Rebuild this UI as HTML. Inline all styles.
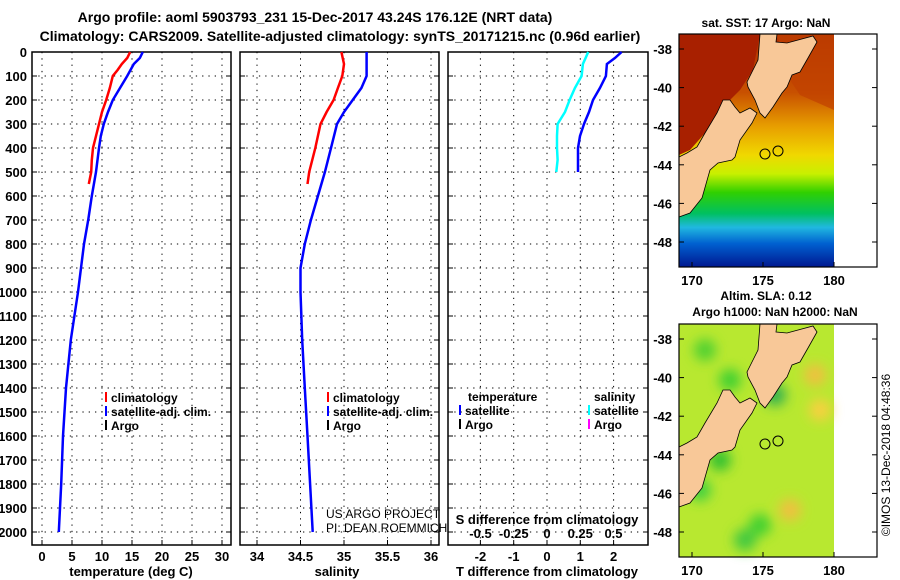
<!DOCTYPE html>
<html><head><meta charset="utf-8"><style>
body{margin:0;background:#fff}
svg{display:block;font-family:"Liberation Sans",sans-serif}
.b{font-weight:bold}
</style></head><body>
<svg id="c" width="900" height="580">
<text x="315" y="22" text-anchor="middle" font-size="14" class="b">Argo profile: aoml 5903793_231 15-Dec-2017 43.24S 176.12E (NRT data)</text>
<text x="340" y="41" text-anchor="middle" font-size="14" class="b">Climatology: CARS2009. Satellite-adjusted climatology: synTS_20171215.nc (0.96d earlier)</text>
<g id="panels"></g>
<g id="maps"></g>
<text transform="translate(890,455) rotate(-90)" text-anchor="middle" font-size="12">©IMOS 13-Dec-2018 04:48:36</text>
</svg>
<script>
// depth axis
const depthTicks=[0,100,200,300,400,500,600,700,800,900,1000,1100,1200,1300,1400,1500,1600,1700,1800,1900,2000];
// temperature panel
const tTicks=[0,5,10,15,20,25,30];
const tClimDepth=[0,25,50,75,100,150,200,250,300,350,400,450,500,550];
const tClim=[14.7,14.2,13.3,12.6,11.8,11.3,10.7,10.0,9.5,9.0,8.5,8.3,8.2,7.8];
const tSatDepth=[0,25,50,100,150,200,250,300,350,400,500,600,700,800,1000,1200,1400,1600,1800,2000];
const tSat=[16.8,16.3,15.3,14.2,13.0,11.8,11.0,10.3,9.8,9.5,9.0,8.3,7.7,7.0,6.0,4.8,4.0,3.5,3.2,2.8];
// salinity panel
const sTicks=[34,34.5,35,35.5,36];
const sClimDepth=[0,50,100,150,200,250,300,400,500,550];
const sClim=[34.97,35.0,34.98,34.93,34.88,34.8,34.73,34.67,34.6,34.58];
const sSatDepth=[0,100,150,200,250,300,400,500,600,700,800,900,1000,1200,1400,1600,1800,2000];
const sSat=[35.26,35.26,35.2,35.1,35.0,34.92,34.85,34.78,34.7,34.62,34.55,34.5,34.5,34.52,34.55,34.58,34.61,34.64];
// difference panel
const dTTicks=[-2,-1,0,1,2];
const dSTickLabels=["-0.5","-0.25","0","0.25","0.5"];
const dSTicks=[-0.5,-0.25,0,0.25,0.5];
const dDepth=[0,25,50,100,150,200,250,300,350,400,450,500];
const dT=[2.24,2.04,1.8,1.77,1.59,1.38,1.26,1.11,0.99,0.93,0.93,0.93];
const dS=[0.31,0.29,0.27,0.26,0.21,0.17,0.135,0.08,0.075,0.075,0.08,0.07];

const NS="http://www.w3.org/2000/svg";
function mk(tag,attrs,parent,txt){const e=document.createElementNS(NS,tag);for(const k in attrs)e.setAttribute(k,attrs[k]);if(txt!==undefined)e.textContent=txt;parent.appendChild(e);return e;}
const P=document.getElementById('panels');
const Y0=52,YTOP=52,YBOT=545;
const yD=d=>Y0+d*0.24;
function panel(x0,x1,name){
  const g=mk('g',{},P);
  
  
  mk('rect',{x:x0,y:YTOP,width:x1-x0,height:YBOT-YTOP,fill:'none',stroke:'#000','stroke-width':1.5},g);
  depthTicks.forEach(d=>{
    const l=mk('line',{x1:x0,x2:x1,y1:yD(d),y2:yD(d),stroke:'#000','stroke-dasharray':'1.3 5','stroke-width':1},g);
    
    
    mk('line',{x1:x0,x2:x0+5,y1:yD(d),y2:yD(d),stroke:'#000'},g);
    mk('line',{x1:x1-5,x2:x1,y1:yD(d),y2:yD(d),stroke:'#000'},g);
  });
  return g;
}
function vgrid(g,ticks,fx,labels,ly){
  ticks.forEach((t,i)=>{
    const x=fx(t);
    const l=mk('line',{x1:x,x2:x,y1:YTOP,y2:YBOT,stroke:'#000','stroke-dasharray':'1.3 5'},g);
    
    
    mk('line',{x1:x,x2:x,y1:YBOT-5,y2:YBOT,stroke:'#000'},g);
    if(labels){const tx=mk('text',{x:x,y:ly,'text-anchor':'middle','font-size':13,'font-weight':'bold'},g,labels[i]);
      
      }
  });
}
function line(g,depths,vals,fx,color,name){
  const pts=depths.map((d,i)=>fx(vals[i]).toFixed(1)+','+yD(d).toFixed(1)).join(' ');
  const pl=mk('polyline',{points:pts,fill:'none',stroke:color,'stroke-width':2.5},g);
  
  
}
function legend(g,x,y,items){
  items.forEach((it,i)=>{
    mk('rect',{x:x,y:y+i*14-10,width:2,height:10,fill:it[0]},g);
    const t=mk('text',{x:x+6,y:y+i*14,'font-size':12,'font-weight':'bold'},g,it[1]);
    
    
  });
}
// depth labels
depthTicks.forEach(d=>{const t=mk('text',{x:27,y:yD(d)+5,'text-anchor':'end','font-size':13,'font-weight':'bold'},P,String(d));
  
  });
// panel 1
const fT=t=>42+t*6;
let g1=panel(32,231,'temperature-panel');
vgrid(g1,tTicks,fT,tTicks.map(String),561);
line(g1,tSatDepth,tSat,fT,'#0000ff','temperature-satellite-line');
line(g1,tClimDepth,tClim,fT,'#ff0000','temperature-climatology-line');
legend(g1,105,402,[['#ff0000','climatology'],['#0000ff','satellite-adj. clim.'],['#000','Argo']]);
let t1=mk('text',{x:131,y:576,'text-anchor':'middle','font-size':13,'font-weight':'bold'},P,'temperature (deg C)');

// panel 2
const fS=s=>257+(s-34)*87;
let g2=panel(240,439,'salinity-panel');
vgrid(g2,sTicks,fS,sTicks.map(String),561);
line(g2,sSatDepth,sSat,fS,'#0000ff','salinity-satellite-line');
line(g2,sClimDepth,sClim,fS,'#ff0000','salinity-climatology-line');
legend(g2,327,402,[['#ff0000','climatology'],['#0000ff','satellite-adj. clim.'],['#000','Argo']]);
mk('text',{x:326,y:518,'font-size':12},g2,'US ARGO PROJECT');
mk('text',{x:326,y:532,'font-size':12},g2,'PI: DEAN ROEMMICH');
let t2=mk('text',{x:337,y:576,'text-anchor':'middle','font-size':13,'font-weight':'bold'},P,'salinity');

// panel 3
const fD=t=>547+t*33.3;
const fDS=s=>547+s*133;
let g3=panel(448,648,'difference-panel');
vgrid(g3,dTTicks,fD,dTTicks.map(String),561);
line(g3,dDepth,dT,fD,'#0000ff','temperature-difference-line');
line(g3,dDepth,dS,fDS,'#00ffff','salinity-difference-line');
mk('text',{x:468,y:401,'font-size':12,'font-weight':'bold'},g3,'temperature');
mk('text',{x:594,y:401,'font-size':12,'font-weight':'bold'},g3,'salinity');
legend(g3,459,415,[['#0000ff','satellite'],['#000','Argo']]);
legend(g3,588,415,[['#00ffff','satellite'],['#ff00ff','Argo']]);
mk('text',{x:547,y:524,'text-anchor':'middle','font-size':13,'font-weight':'bold'},g3,'S difference from climatology');
dSTicks.forEach((s,i)=>mk('text',{x:fDS(s),y:538,'text-anchor':'middle','font-size':13,'font-weight':'bold'},g3,dSTickLabels[i]));
let t3=mk('text',{x:547,y:576,'text-anchor':'middle','font-size':13,'font-weight':'bold'},P,'T difference from climatology');


// maps
const M=document.getElementById('maps');
const lonTicks=[170,175,180];const latTicks=[-38,-40,-42,-44,-46,-48];
const NI="760,34 777,34 776,42 787,43 813,36 817,42 808,58 800,72 792,75 787,87 782,93 773,107 765,118 760,113 755,100 748,87 747,82 753,70 758,60";
const SI="679,217 690,213 702,198 710,170 718,163 732,160 735,157 740,140 752,123 757,113 750,108 740,113 735,107 730,100 723,100 717,113 705,133 697,147 687,153 679,157";
const defs=mk('defs',{},M);
const gr=mk('linearGradient',{id:'sst',x1:0,y1:0,x2:0,y2:1},defs);
[[0,'#b03000'],[0.25,'#c85000'],[0.4,'#e8a000'],[0.52,'#f0d800'],[0.6,'#c8f000'],[0.68,'#30d000'],[0.77,'#00c060'],[0.83,'#20b8e0'],[0.9,'#0060d0'],[1,'#001890']].forEach(s=>mk('stop',{offset:s[0],'stop-color':s[1]},gr));
const fl=mk('filter',{id:'bl'},defs);mk('feGaussianBlur',{stdDeviation:6},fl);
function map(oy,name,title1,title2,kind){
  const g=mk('g',{transform:'translate(0,'+oy+')'},M);
  
  
  if(kind==='sst'){
    mk('rect',{x:679,y:34,width:155,height:233,fill:'url(#sst)'},g);
    mk('polygon',{points:'679,34 760,34 753,70 740,90 730,100 717,113 705,133 690,150 679,155',fill:'#a82000'},g);
    mk('polygon',{points:'777,34 834,34 834,110 800,95 790,80',fill:'#c04000',opacity:0.7},g);
  }else{
    mk('rect',{x:679,y:34,width:155,height:233,fill:'#b8e830'},g);
    const cl=mk('g',{filter:'url(#bl)'},g);
    [[705,60,'#50d030'],[730,90,'#40d030'],[775,105,'#30b050'],[720,170,'#30c030'],[700,200,'#40d040'],[760,235,'#40d030'],[745,250,'#40c840'],[815,85,'#f0c040'],[790,220,'#f0c040'],[820,120,'#f8d040']].forEach(c=>mk('circle',{cx:c[0],cy:c[1],r:11,fill:c[2]},cl));
  }
  mk('polygon',{points:NI,fill:'#f8c898',stroke:'#000','stroke-width':0.8},g);
  mk('polygon',{points:SI,fill:'#f8c898',stroke:'#000','stroke-width':0.8},g);
  mk('circle',{cx:765,cy:154,r:5,fill:'none',stroke:'#000'},g);
  mk('circle',{cx:778,cy:151,r:5,fill:'none',stroke:'#000'},g);
  mk('rect',{x:679,y:34,width:198,height:233,fill:'none',stroke:'#000','stroke-width':1.2},g);
  latTicks.forEach(l=>{const y=49+(-38-l)*19.3;
    mk('line',{x1:679,x2:684,y1:y,y2:y,stroke:'#000'},g);mk('line',{x1:872,x2:877,y1:y,y2:y,stroke:'#000'},g);
    mk('text',{x:672,y:y+5,'text-anchor':'end','font-size':13,'font-weight':'bold'},g,String(l));});
  lonTicks.forEach(l=>{const x=692+(l-170)*14.2;
    mk('line',{x1:x,x2:x,y1:262,y2:267,stroke:'#000'},g);
    mk('text',{x:x,y:285,'text-anchor':'middle','font-size':13,'font-weight':'bold'},g,String(l));});
  mk('text',{x:766,y:title2?10:27,'text-anchor':'middle','font-size':12,'font-weight':'bold'},g,title1);
  if(title2)mk('text',{x:775,y:26,'text-anchor':'middle','font-size':12,'font-weight':'bold'},g,title2);
}
map(0,'sst-map','sat. SST: 17 Argo: NaN','','sst');
map(290,'sla-map','Altim. SLA: 0.12','Argo h1000: NaN h2000: NaN','sla');
</script>
</body></html>
